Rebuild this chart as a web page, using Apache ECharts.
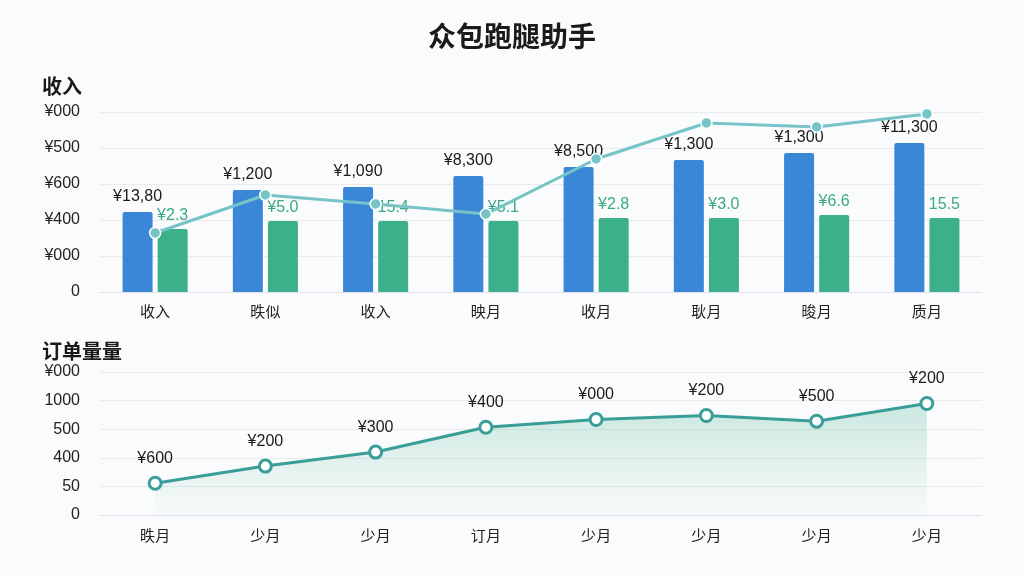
<!DOCTYPE html>
<html>
<head>
<meta charset="utf-8">
<script src="https://cdn.jsdelivr.net/npm/echarts@6/dist/echarts.min.js"></script>
<style>
  html, body { margin: 0; padding: 0; background: #f3f5f7; }
  #main { width: 1024px; height: 576px; }
</style>
</head>
<body>
<div id="main"></div>
<script>
var myChart = echarts.init(document.getElementById('main'))

// 收入 图
var incomeCats = ['收入', '昳似', '收入', '映月', '收月', '耿月', '晙月', '质月']
var incomeTicks = ['0', '¥000', '¥400', '¥600', '¥500', '¥000']
var blueValues = [444, 567, 583, 644, 694, 733, 772, 828]
var blueLabels = ['¥13,80', '¥1,200', '¥1,090', '¥8,300', '¥8,500', '¥1,300', '¥1,300', '¥11,300']
var greenValues = [350, 394, 394, 394, 411, 411, 428, 411]
var greenLabels = ['¥2.3', '¥5.0', '15.4', '¥5.1', '¥2.8', '¥3.0', '¥6.6', '15.5']
var trendValues = [328, 539, 489, 433, 739, 939, 917, 989]

// 订单量 图
var orderCats = ['昳月', '少月', '少月', '订月', '少月', '少月', '少月', '少月']
var orderTicks = ['0', '50', '400', '500', '1000', '¥000']
var orderValues = [222, 342, 440, 614, 668, 696, 656, 780]
var orderLabels = ['¥600', '¥200', '¥300', '¥400', '¥000', '¥200', '¥500', '¥200']

var font = '"Liberation Sans", "Noto Sans CJK SC", sans-serif'
var cjk = '"Noto Sans CJK SC", sans-serif'

var options = {
    backgroundColor: '#fafbfc',
    textStyle: { fontFamily: font },
    title: [{
        text: '众包跑腿助手',
        left: 'center',
        top: 17,
        textStyle: { fontSize: 28, fontWeight: 'bold', color: '#1a1a1a', fontFamily: cjk }
    }, {
        text: '收入',
        left: 37,
        top: 71,
        textStyle: { fontSize: 20, fontWeight: 'bold', color: '#1a1a1a', fontFamily: cjk }
    }, {
        text: '订单量量',
        left: 37,
        top: 336,
        textStyle: { fontSize: 20, fontWeight: 'bold', color: '#1a1a1a', fontFamily: cjk }
    }],
    grid: [
        { left: 100, right: 42, top: 112, height: 180 },
        { left: 100, right: 42, top: 372, height: 143 }
    ],
    xAxis: [{
        gridIndex: 0,
        type: 'category',
        data: incomeCats,
        axisLine: { lineStyle: { color: '#dfe3e8' } },
        axisTick: { show: false },
        axisLabel: { color: '#222', fontSize: 15, margin: 12, fontFamily: cjk }
    }, {
        gridIndex: 1,
        type: 'category',
        data: orderCats,
        axisLine: { lineStyle: { color: '#dfe3e8' } },
        axisTick: { show: false },
        axisLabel: { color: '#222', fontSize: 15, margin: 13, fontFamily: cjk }
    }],
    yAxis: [{
        gridIndex: 0,
        type: 'value',
        min: 0,
        max: 1000,
        interval: 200,
        axisLabel: {
            color: '#222', fontSize: 16, margin: 20,
            formatter: function (v) { return incomeTicks[Math.round(v / 200)] }
        },
        splitLine: { lineStyle: { color: '#e8ebee' } }
    }, {
        gridIndex: 1,
        type: 'value',
        min: 0,
        max: 1000,
        interval: 200,
        axisLabel: {
            color: '#222', fontSize: 16, margin: 20,
            formatter: function (v) { return orderTicks[Math.round(v / 200)] }
        },
        splitLine: { lineStyle: { color: '#e8ebee' } }
    }],
    series: [{
        name: '收入',
        type: 'bar',
        xAxisIndex: 0,
        yAxisIndex: 0,
        data: blueValues,
        barWidth: 30,
        barGap: '17%',
        itemStyle: { color: '#3a87d8', borderRadius: [2, 2, 0, 0] },
        label: {
            show: true, position: 'top', distance: 7,
            color: '#1a1a1a', fontSize: 16,
            formatter: function (p) { return blueLabels[p.dataIndex] }
        }
    }, {
        name: '其他',
        type: 'bar',
        xAxisIndex: 0,
        yAxisIndex: 0,
        data: greenValues,
        barWidth: 30,
        itemStyle: { color: '#3bb08a', borderRadius: [2, 2, 0, 0] },
        label: {
            show: true, position: 'top', distance: 5,
            color: '#3aaa85', fontSize: 16,
            formatter: function (p) { return greenLabels[p.dataIndex] }
        }
    }, {
        name: '趋势',
        type: 'line',
        xAxisIndex: 0,
        yAxisIndex: 0,
        data: trendValues,
        symbol: 'circle',
        symbolSize: 11,
        lineStyle: { color: '#77c4c8', width: 3 },
        itemStyle: { color: '#77c4c8', borderColor: '#fff', borderWidth: 1.5 },
        z: 5
    }, {
        name: '订单量',
        type: 'line',
        xAxisIndex: 1,
        yAxisIndex: 1,
        data: orderValues,
        symbol: 'circle',
        symbolSize: 12,
        lineStyle: { color: '#3a9e98', width: 3 },
        itemStyle: { color: '#fff', borderColor: '#3a9e98', borderWidth: 3 },
        areaStyle: {
            color: new echarts.graphic.LinearGradient(0, 0, 0, 1, [
                { offset: 0, color: 'rgba(58,170,140,0.35)' },
                { offset: 1, color: 'rgba(58,170,140,0.02)' }
            ])
        },
        label: {
            show: true, position: 'top', distance: 9,
            color: '#1a1a1a', fontSize: 16,
            formatter: function (p) { return orderLabels[p.dataIndex] }
        }
    }]
}

myChart.setOption(options)
</script>
</body>
</html>
